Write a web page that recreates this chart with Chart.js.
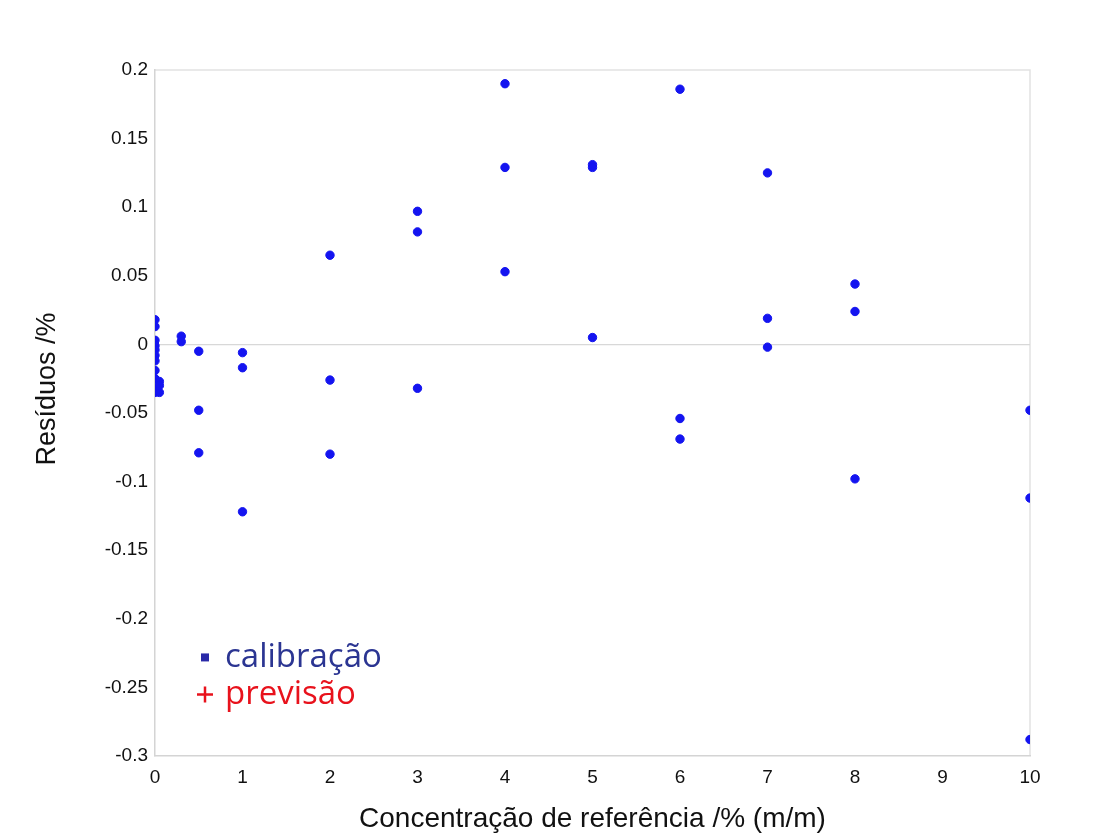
<!DOCTYPE html>
<html>
<head>
<meta charset="utf-8">
<script src="https://cdn.jsdelivr.net/npm/chart.js@4/dist/chart.umd.min.js"></script>
<style>
  body { margin: 0; background: #fff; }
  #wrap { width: 1110px; height: 840px; }
</style>
</head>
<body>
<div id="wrap"><canvas id="myChart"></canvas></div>
<script>
// Calibration residuals
const calX = [0, 0, 0, 0, 0, 0, 0, 0, 0, 0, 0, 0.05, 0.05, 0.05,
  0.3, 0.3, 0.5, 0.5, 0.5, 1, 1, 1, 2, 2, 2, 3, 3, 3, 4, 4, 4,
  5, 5, 5, 6, 6, 6, 7, 7, 7, 8, 8, 8, 10, 10, 10];
const calY = [0.018, 0.013, 0.003, -0.001, -0.004, -0.008, -0.012, -0.019, -0.025, -0.032, -0.035, -0.027, -0.035, -0.030,
  0.006, 0.002, -0.005, -0.048, -0.079, -0.006, -0.017, -0.122, 0.065, -0.026, -0.080, 0.097, 0.082, -0.032, 0.190, 0.129, 0.053,
  0.131, 0.129, 0.005, 0.186, -0.054, -0.069, 0.125, 0.019, -0.002, 0.044, 0.024, -0.098, -0.048, -0.112, -0.288];

const xTicks = [0, 1, 2, 3, 4, 5, 6, 7, 8, 9, 10];
const yTicks = [-0.3, -0.25, -0.2, -0.15, -0.1, -0.05, 0, 0.05, 0.1, 0.15, 0.2];

const legendItems = ['calibração', 'previsão'];
const xTitle = 'Concentração de referência /% (m/m)';
const yTitle = 'Resíduos /%';

let points = calX.map((x, i) => ({ x: x, y: calY[i] }));

// legend drawn inside the plot, like the original
const legendInside = {
  id: 'legendInside',
  afterDraw(chart) {
    const ctx = chart.ctx;
    const ys = chart.scales.y;
    ctx.save();
    ctx.font = '33px "Open Sans", sans-serif';
    ctx.textBaseline = 'middle';
    // calibração
    let px = 205, py = ys.getPixelForValue(-0.2267);
    ctx.fillStyle = '#2a2aa8';
    ctx.fillRect(px - 4, py - 2, 8, 8);
    ctx.fillStyle = '#2b3592';
    ctx.fillText(legendItems[0], 225, py + 2);
    // previsão
    py = ys.getPixelForValue(-0.2537);
    ctx.strokeStyle = '#e8121c';
    ctx.lineWidth = 2.5;
    ctx.beginPath();
    ctx.moveTo(px - 8, py + 2); ctx.lineTo(px + 8, py + 2);
    ctx.moveTo(px, py - 6); ctx.lineTo(px, py + 10);
    ctx.stroke();
    ctx.fillStyle = '#e8121c';
    ctx.fillText(legendItems[1], 225, py + 2);

    // y axis title, placed as in the original
    ctx.font = '27px "Liberation Sans", Arial, sans-serif';
    ctx.fillStyle = '#111';
    ctx.textAlign = 'center';
    ctx.translate(48, 389);
    ctx.rotate(-Math.PI / 2);
    ctx.fillText(yTitle, 0, 0);
    ctx.restore();
  }
};

const myChart = document.getElementById('myChart');

new Chart(myChart, {
  type: 'scatter',
  data: {
    datasets: [{
      label: legendItems[0],
      data: points,
      backgroundColor: '#1414f0',
      borderColor: '#1414f0',
      pointRadius: 4.2,
      pointHoverRadius: 4.2
    }]
  },
  options: {
    responsive: true,
    maintainAspectRatio: false,
    animation: false,
    layout: { padding: { left: 0, right: 80, top: 70, bottom: 0 } },
    plugins: {
      legend: { display: false },
      tooltip: { enabled: false }
    },
    scales: {
      x: {
        type: 'linear',
        min: 0,
        max: 10,
        afterBuildTicks: axis => { axis.ticks = xTicks.map(v => ({ value: v })); },
        afterFit: axis => { axis.height = 84; },
        grid: { display: false },
        border: { color: '#d4d4d4', width: 1.5 },
        ticks: {
          color: '#111',
          font: { family: '"Liberation Sans", Arial, sans-serif', size: 19 },
          padding: 2,
          maxRotation: 0
        },
        title: {
          display: true,
          text: xTitle,
          color: '#111',
          font: { family: '"Liberation Sans", Arial, sans-serif', size: 28 },
          padding: { top: 8 }
        }
      },
      y: {
        min: -0.3,
        max: 0.2,
        afterBuildTicks: axis => { axis.ticks = yTicks.map(v => ({ value: v })); },
        afterFit: axis => { axis.width = 155; },
        grid: {
          drawTicks: false,
          color: c => Math.abs(c.tick.value) < 1e-9 ? '#d8d8d8' : 'rgba(0,0,0,0)',
          lineWidth: 1.2
        },
        border: { color: '#d4d4d4', width: 1.5 },
        ticks: {
          color: '#111',
          font: { family: '"Liberation Sans", Arial, sans-serif', size: 19 },
          padding: 7,
          callback: v => String(Math.round(v * 100) / 100)
        },
        title: { display: false }
      }
    }
  },
  plugins: [legendInside, {
    id: 'frame',
    beforeDraw(chart) {
      const a = chart.chartArea, ctx = chart.ctx;
      ctx.save();
      ctx.fillStyle = '#fff';
      ctx.fillRect(0, 0, chart.width, chart.height);
      ctx.strokeStyle = '#e2e2e2';
      ctx.lineWidth = 1.5;
      ctx.beginPath();
      ctx.moveTo(a.left, a.top); ctx.lineTo(a.right, a.top); ctx.lineTo(a.right, a.bottom);
      ctx.stroke();
      ctx.restore();
    }
  }]
});
</script>
</body>
</html>
